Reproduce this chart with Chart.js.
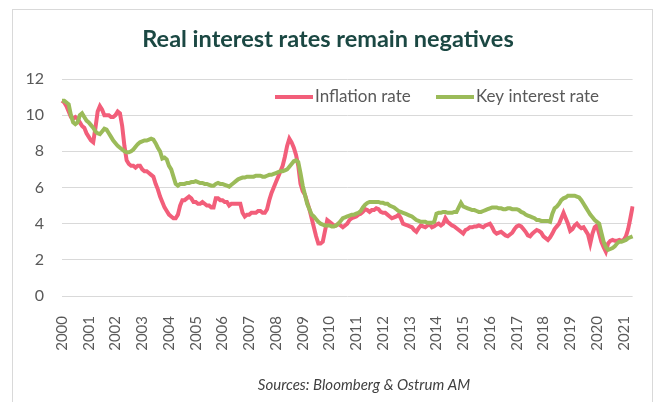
<!DOCTYPE html>
<html>
<head>
<meta charset="utf-8">
<title>Real interest rates remain negatives</title>
<script src="https://cdn.jsdelivr.net/npm/chart.js@4"></script>
<style>
    html, body { margin: 0; padding: 0; background: #fff; }
    .wrap { position: relative; width: 654px; height: 402px; overflow: hidden; }
    .frame { position: absolute; left: 12px; top: 9px; width: 639px; height: 420px; border: 1px solid #d9d9d9; }
    canvas { position: absolute; left: 0; top: 0; }
</style>
</head>
<body>
<div class="wrap">
    <div class="frame"></div>
    <canvas id="rates-chart" width="654" height="402"></canvas>
</div>
<script>
// monthly series, Jan 2000 -> May 2021
const startYear = 2000;

const inflation = [
    10.8, 10.7, 10.5, 10.2, 9.9, 9.8, 9.9, 9.8, 9.6, 9.4,
    9.3, 9.0, 8.8, 8.6, 8.5, 9.3, 10.2, 10.5, 10.3, 10.0,
    10.0, 10.0, 9.9, 9.9, 10.0, 10.2, 10.1, 9.4, 8.3, 7.5,
    7.3, 7.2, 7.2, 7.1, 7.2, 7.2, 7.0, 6.9, 6.9, 6.8,
    6.7, 6.6, 6.2, 5.9, 5.5, 5.2, 4.9, 4.7, 4.5, 4.4,
    4.3, 4.3, 4.5, 5.0, 5.3, 5.3, 5.4, 5.5, 5.4, 5.2,
    5.2, 5.1, 5.1, 5.2, 5.1, 5.0, 5.0, 4.9, 4.9, 5.4,
    5.4, 5.3, 5.3, 5.2, 5.2, 5.0, 5.1, 5.1, 5.1, 5.1,
    5.1, 4.6, 4.4, 4.5, 4.5, 4.6, 4.6, 4.6, 4.7, 4.7,
    4.6, 4.6, 4.8, 5.3, 5.7, 6.0, 6.3, 6.6, 6.9, 7.2,
    7.7, 8.3, 8.7, 8.5, 8.2, 7.8, 7.2, 6.2, 5.8, 5.6,
    5.2, 4.8, 4.3, 3.8, 3.3, 2.9, 2.9, 3.0, 3.6, 4.2,
    4.1, 4.0, 3.9, 3.9, 4.0, 3.9, 3.8, 3.9, 4.0, 4.2,
    4.3, 4.35, 4.4, 4.5, 4.55, 4.65, 4.8, 4.75, 4.65, 4.75,
    4.75, 4.85, 4.8, 4.65, 4.6, 4.6, 4.5, 4.4, 4.3, 4.35,
    4.4, 4.5, 4.3, 4.0, 3.95, 3.9, 3.85, 3.8, 3.65, 3.55,
    3.75, 3.9, 3.85, 3.8, 3.9, 3.95, 3.8, 3.85, 3.95, 4.0,
    3.9, 4.0, 4.3, 4.1, 4.0, 3.9, 3.85, 3.75, 3.65, 3.55,
    3.45, 3.65, 3.7, 3.8, 3.8, 3.85, 3.85, 3.9, 3.85, 3.8,
    3.9, 3.95, 4.0, 3.8, 3.55, 3.45, 3.5, 3.55, 3.45, 3.35,
    3.3, 3.4, 3.5, 3.7, 3.85, 3.9, 3.85, 3.7, 3.55, 3.35,
    3.3, 3.45, 3.55, 3.65, 3.6, 3.5, 3.3, 3.2, 3.1, 3.25,
    3.45, 3.7, 3.85, 4.0, 4.3, 4.6, 4.3, 4.0, 3.6, 3.7,
    3.9, 4.0, 3.85, 3.75, 3.8, 3.6, 3.4, 2.9, 3.45, 3.8,
    3.9, 3.45, 3.0, 2.7, 2.45, 2.9, 3.05, 3.1, 3.05, 3.05,
    3.1, 3.05, 3.1, 3.3, 3.7, 4.3, 4.95
];

const keyRate = [
    10.8, 10.8, 10.7, 10.6, 10.0, 9.6, 9.5, 9.6, 10.0, 10.1,
    9.9, 9.7, 9.6, 9.45, 9.3, 9.1, 9.0, 8.95, 9.1, 9.25,
    9.2, 9.0, 8.8, 8.6, 8.45, 8.3, 8.2, 8.1, 8.0, 7.95,
    7.95, 8.0, 8.1, 8.25, 8.4, 8.5, 8.55, 8.6, 8.6, 8.65,
    8.7, 8.65, 8.45, 8.2, 8.0, 7.6, 7.65, 7.55, 7.2, 7.0,
    6.6, 6.2, 6.1, 6.2, 6.2, 6.2, 6.25, 6.25, 6.3, 6.3,
    6.35, 6.3, 6.25, 6.25, 6.2, 6.2, 6.15, 6.1, 6.1, 6.2,
    6.25, 6.2, 6.2, 6.15, 6.1, 6.05, 6.15, 6.25, 6.35, 6.45,
    6.5, 6.55, 6.55, 6.6, 6.6, 6.6, 6.6, 6.65, 6.65, 6.65,
    6.6, 6.6, 6.65, 6.7, 6.7, 6.75, 6.8, 6.85, 6.9, 6.9,
    6.95, 7.0, 7.15, 7.3, 7.45, 7.5, 7.4, 6.8, 6.1, 5.6,
    5.1, 4.8, 4.5, 4.4, 4.25, 4.1, 4.0, 3.95, 3.9, 3.9,
    3.9, 3.85, 3.85, 3.9, 4.0, 4.15, 4.3, 4.35, 4.4, 4.45,
    4.5, 4.5, 4.55, 4.6, 4.7, 4.9, 5.05, 5.15, 5.2, 5.2,
    5.2, 5.2, 5.2, 5.15, 5.15, 5.1, 5.1, 5.0, 4.95, 4.9,
    4.8, 4.7, 4.65, 4.6, 4.55, 4.5, 4.45, 4.4, 4.3, 4.2,
    4.15, 4.1, 4.1, 4.1, 4.05, 4.05, 4.05, 4.1, 4.55, 4.6,
    4.6, 4.65, 4.65, 4.6, 4.6, 4.6, 4.65, 4.65, 4.9, 5.15,
    4.95, 4.9, 4.85, 4.8, 4.75, 4.75, 4.7, 4.65, 4.65, 4.7,
    4.75, 4.8, 4.85, 4.9, 4.9, 4.9, 4.85, 4.85, 4.8, 4.8,
    4.85, 4.85, 4.8, 4.8, 4.8, 4.75, 4.65, 4.6, 4.5, 4.45,
    4.4, 4.35, 4.3, 4.2, 4.2, 4.15, 4.15, 4.15, 4.15, 4.1,
    4.55, 4.85, 4.95, 5.1, 5.3, 5.4, 5.45, 5.55, 5.55, 5.55,
    5.55, 5.5, 5.45, 5.3, 5.1, 4.9, 4.7, 4.5, 4.35, 4.2,
    4.1, 4.0, 3.5, 3.0, 2.7, 2.55, 2.6, 2.65, 2.75, 2.9,
    3.0, 3.0, 3.05, 3.1, 3.2, 3.25, 3.3
];

const yTicks = [0, 2, 4, 6, 8, 10, 12];

// "2000-01", "2000-02", ...
const months = inflation.map(function(_, i) {
    const m = (i % 12) + 1;
    return (startYear + Math.floor(i / 12)) + '-' + (m < 10 ? '0' + m : m);
});

const PINK = '#f25e7a';
const GREEN = '#9bbb59';
const GREY = '#595959';

// legend inside the plot + source line under the axis
const notesPlugin = {
    id: 'notes',
    afterDraw(chart) {
        const ctx = chart.ctx;
        const items = [
            { x: 275, ds: chart.data.datasets[0] },
            { x: 436, ds: chart.data.datasets[1] }
        ];
        ctx.save();
        ctx.font = '17px Lato';
        ctx.textBaseline = 'middle';
        items.forEach(function(it) {
            ctx.strokeStyle = it.ds.borderColor;
            ctx.lineWidth = 4;
            ctx.beginPath();
            ctx.moveTo(it.x, 97);
            ctx.lineTo(it.x + 38, 97);
            ctx.stroke();
            ctx.fillStyle = GREY;
            ctx.fillText(it.ds.label, it.x + 40, 97);
        });
        ctx.font = 'italic 15px Lato';
        ctx.fillStyle = '#404040';
        ctx.textAlign = 'center';
        ctx.fillText('Sources: Bloomberg & Ostrum AM', 364, 385);
        ctx.restore();
    }
};

function initChart() {
    const el = document.getElementById('rates-chart');
    new Chart(el, {
        type: 'line',
        data: {
            labels: months,
            datasets: [{
                label: 'Inflation rate',
                data: inflation,
                borderColor: PINK,
                borderWidth: 4,
                pointRadius: 0,
                tension: 0,
                order: 1
            }, {
                label: 'Key interest rate',
                data: keyRate,
                borderColor: GREEN,
                borderWidth: 4,
                pointRadius: 0,
                tension: 0,
                order: 0
            }]
        },
        options: {
            responsive: false,
            animation: false,
            layout: {
                padding: { left: 22, right: 20, top: 0, bottom: 0 }
            },
            plugins: {
                legend: { display: false },
                tooltip: { enabled: false },
                title: {
                    display: true,
                    text: 'Real interest rates remain negatives',
                    color: '#1b4843',
                    font: { family: 'Lato', size: 23.5, weight: 'bold' },
                    padding: { top: 25, bottom: 25.8 }
                }
            },
            scales: {
                x: {
                    grid: { display: false },
                    border: { display: false },
                    ticks: {
                        autoSkip: false,
                        maxRotation: 90,
                        minRotation: 90,
                        padding: 12,
                        color: GREY,
                        font: { family: 'Lato', size: 15 },
                        callback: function(val) {
                            const lab = this.getLabelForValue(val);
                            return lab.endsWith('-01') ? lab.slice(0, 4) : null;
                        }
                    },
                    afterFit: function(scale) { scale.height = 106; }
                },
                y: {
                    min: yTicks[0],
                    max: yTicks[yTicks.length - 1],
                    afterBuildTicks: function(scale) {
                        scale.ticks = yTicks.map(function(v) { return { value: v }; });
                    },
                    grid: { color: '#d9d9d9', lineWidth: 1, drawTicks: false },
                    border: { display: false },
                    ticks: {
                        padding: 18,
                        color: GREY,
                        font: { family: 'Lato', size: 16 }
                    },
                    afterFit: function(scale) { scale.width = 40; }
                }
            }
        },
        plugins: [notesPlugin]
    });
}

document.addEventListener('DOMContentLoaded', initChart);
</script>
</body>
</html>
